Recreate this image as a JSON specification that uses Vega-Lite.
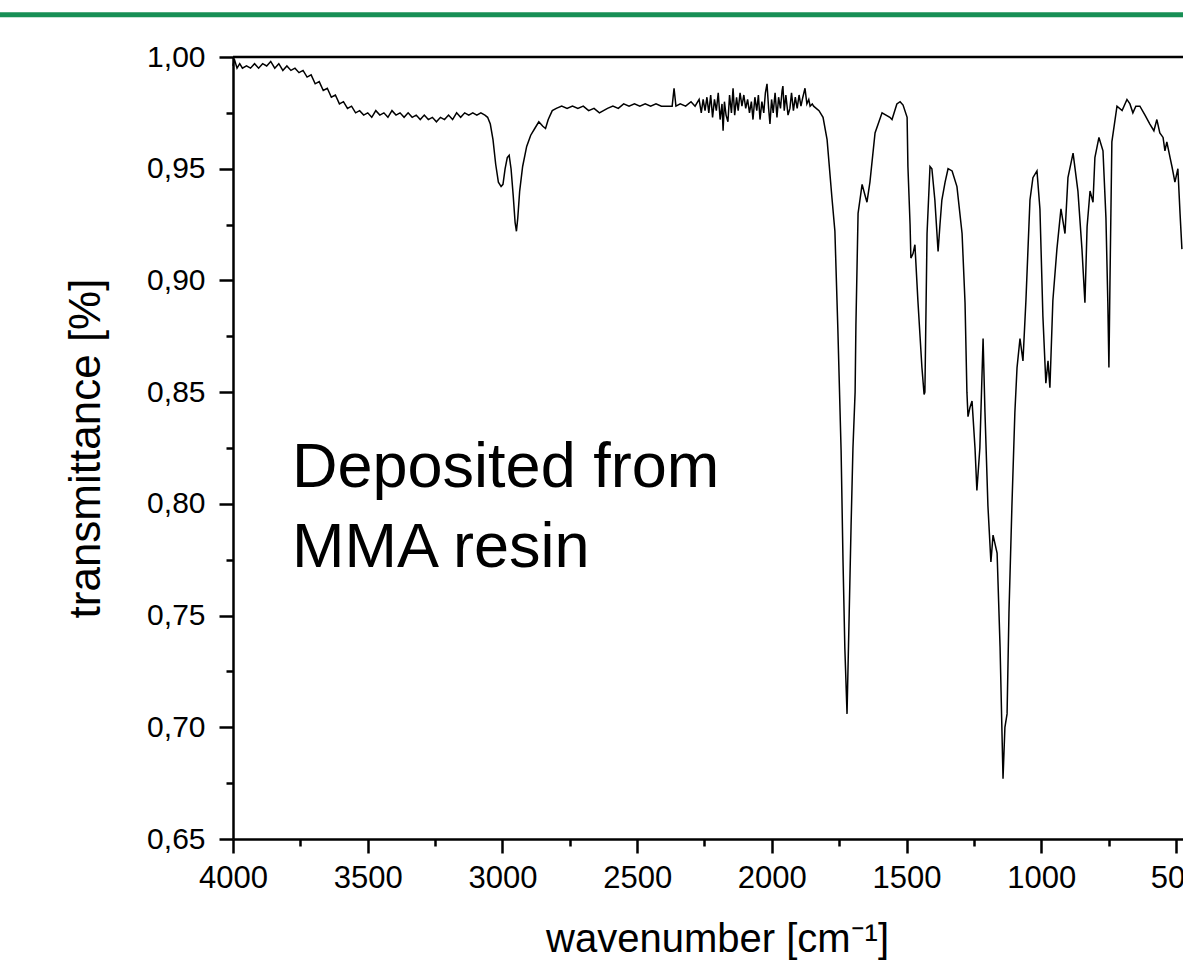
{
  "$schema": "https://vega.github.io/schema/vega-lite/v6.json",
  "autosize": {"type": "none"},
  "padding": {"left": 233, "top": 57, "right": 0, "bottom": 123},
  "width": 950,
  "height": 782,
  "background": "white",
  "config": {
    "view": {"stroke": null},
    "font": "Liberation Sans",
    "axis": {"grid": false, "domainColor": "black", "domainWidth": 2.5, "tickColor": "black", "tickWidth": 2.5, "labelColor": "black", "titleColor": "black", "labelFont": "Liberation Sans", "titleFont": "Liberation Sans", "titleFontWeight": "normal", "labelOverlap": false, "labelFlush": false, "labelBound": false}
  },
  "layer": [
    {
      "data": {"values": [
        {"wn":4000,"t":0.996},{"wn":3995,"t":0.999},{"wn":3985,"t":0.995},{"wn":3975,"t":0.997},{"wn":3965,"t":0.995},{"wn":3950,"t":0.996},{"wn":3935,"t":0.995},{"wn":3920,"t":0.997},{"wn":3905,"t":0.995},{"wn":3890,"t":0.997},{"wn":3875,"t":0.996},{"wn":3860,"t":0.998},{"wn":3845,"t":0.995},{"wn":3830,"t":0.997},{"wn":3815,"t":0.994},{"wn":3800,"t":0.996},{"wn":3785,"t":0.994},{"wn":3770,"t":0.995},{"wn":3755,"t":0.993},{"wn":3740,"t":0.994},{"wn":3725,"t":0.991},{"wn":3710,"t":0.992},{"wn":3695,"t":0.988},{"wn":3680,"t":0.989},{"wn":3665,"t":0.985},{"wn":3650,"t":0.986},{"wn":3635,"t":0.982},{"wn":3620,"t":0.983},{"wn":3605,"t":0.979},{"wn":3590,"t":0.98},{"wn":3575,"t":0.977},{"wn":3560,"t":0.978},{"wn":3545,"t":0.975},{"wn":3530,"t":0.976},{"wn":3515,"t":0.974},{"wn":3500,"t":0.975},{"wn":3485,"t":0.973},{"wn":3470,"t":0.976},{"wn":3455,"t":0.974},{"wn":3440,"t":0.975},{"wn":3425,"t":0.973},{"wn":3410,"t":0.976},{"wn":3395,"t":0.974},{"wn":3380,"t":0.975},{"wn":3365,"t":0.973},{"wn":3350,"t":0.975},{"wn":3335,"t":0.973},{"wn":3320,"t":0.974},{"wn":3305,"t":0.972},{"wn":3290,"t":0.974},{"wn":3275,"t":0.972},{"wn":3260,"t":0.973},{"wn":3245,"t":0.971},{"wn":3230,"t":0.973},{"wn":3215,"t":0.972},{"wn":3200,"t":0.974},{"wn":3185,"t":0.972},{"wn":3170,"t":0.975},{"wn":3155,"t":0.973},{"wn":3140,"t":0.975},{"wn":3125,"t":0.974},{"wn":3110,"t":0.975},{"wn":3095,"t":0.974},{"wn":3080,"t":0.975},{"wn":3065,"t":0.974},{"wn":3055,"t":0.973},
        {"wn":3045,"t":0.97},{"wn":3035,"t":0.963},{"wn":3025,"t":0.952},{"wn":3015,"t":0.944},{"wn":3005,"t":0.942},{"wn":2998,"t":0.943},{"wn":2990,"t":0.95},{"wn":2982,"t":0.955},{"wn":2975,"t":0.956},{"wn":2968,"t":0.95},{"wn":2960,"t":0.938},{"wn":2953,"t":0.926},{"wn":2948,"t":0.922},{"wn":2943,"t":0.928},{"wn":2936,"t":0.94},{"wn":2925,"t":0.951},{"wn":2910,"t":0.96},{"wn":2895,"t":0.965},{"wn":2880,"t":0.968},{"wn":2865,"t":0.971},{"wn":2850,"t":0.969},{"wn":2840,"t":0.968},{"wn":2830,"t":0.972},{"wn":2815,"t":0.976},{"wn":2800,"t":0.977},{"wn":2780,"t":0.978},
        {"wn":2760,"t":0.977},{"wn":2740,"t":0.978},{"wn":2720,"t":0.977},{"wn":2700,"t":0.978},{"wn":2680,"t":0.976},{"wn":2660,"t":0.977},{"wn":2640,"t":0.975},{"wn":2625,"t":0.976},{"wn":2610,"t":0.977},{"wn":2590,"t":0.978},{"wn":2570,"t":0.977},{"wn":2550,"t":0.979},{"wn":2530,"t":0.978},{"wn":2510,"t":0.979},{"wn":2490,"t":0.978},{"wn":2470,"t":0.979},{"wn":2450,"t":0.978},{"wn":2430,"t":0.979},{"wn":2410,"t":0.978},{"wn":2395,"t":0.978},{"wn":2370,"t":0.978},{"wn":2363,"t":0.986},{"wn":2356,"t":0.978},{"wn":2340,"t":0.979},{"wn":2320,"t":0.978},{"wn":2300,"t":0.98},{"wn":2285,"t":0.978},{"wn":2270,"t":0.981},
        {"wn":2262,"t":0.975},{"wn":2255,"t":0.981},{"wn":2248,"t":0.976},{"wn":2241,"t":0.982},{"wn":2234,"t":0.975},{"wn":2227,"t":0.983},{"wn":2220,"t":0.973},{"wn":2213,"t":0.981},{"wn":2206,"t":0.976},{"wn":2199,"t":0.984},{"wn":2192,"t":0.972},{"wn":2185,"t":0.979},{"wn":2181,"t":0.967},{"wn":2176,"t":0.98},{"wn":2170,"t":0.974},{"wn":2163,"t":0.971},{"wn":2157,"t":0.983},{"wn":2150,"t":0.975},{"wn":2144,"t":0.986},{"wn":2138,"t":0.974},{"wn":2131,"t":0.982},{"wn":2125,"t":0.976},{"wn":2118,"t":0.984},{"wn":2111,"t":0.978},{"wn":2104,"t":0.983},{"wn":2097,"t":0.977},{"wn":2090,"t":0.981},{"wn":2083,"t":0.975},{"wn":2076,"t":0.98},{"wn":2070,"t":0.972},{"wn":2063,"t":0.982},{"wn":2056,"t":0.976},{"wn":2050,"t":0.983},{"wn":2044,"t":0.972},{"wn":2037,"t":0.98},{"wn":2030,"t":0.975},{"wn":2024,"t":0.984},{"wn":2018,"t":0.988},{"wn":2012,"t":0.977},{"wn":2007,"t":0.97},{"wn":2001,"t":0.981},{"wn":1995,"t":0.975},{"wn":1988,"t":0.984},{"wn":1981,"t":0.973},{"wn":1975,"t":0.982},{"wn":1968,"t":0.977},{"wn":1962,"t":0.985},{"wn":1959,"t":0.987},{"wn":1954,"t":0.976},{"wn":1948,"t":0.983},{"wn":1940,"t":0.974},{"wn":1933,"t":0.977},{"wn":1927,"t":0.984},{"wn":1920,"t":0.976},{"wn":1913,"t":0.982},{"wn":1906,"t":0.977},{"wn":1899,"t":0.983},{"wn":1892,"t":0.978},{"wn":1885,"t":0.982},{"wn":1877,"t":0.986},{"wn":1870,"t":0.979},{"wn":1863,"t":0.981},{"wn":1858,"t":0.978},{"wn":1850,"t":0.979},{"wn":1845,"t":0.978},
        {"wn":1825,"t":0.976},{"wn":1810,"t":0.973},{"wn":1795,"t":0.963},{"wn":1777,"t":0.937},{"wn":1766,"t":0.922},{"wn":1755,"t":0.878},{"wn":1743,"t":0.824},{"wn":1736,"t":0.775},{"wn":1729,"t":0.735},{"wn":1721,"t":0.706},{"wn":1714,"t":0.745},{"wn":1706,"t":0.79},{"wn":1699,"t":0.825},{"wn":1691,"t":0.85},{"wn":1688,"t":0.88},{"wn":1680,"t":0.93},{"wn":1665,"t":0.943},{"wn":1654,"t":0.938},{"wn":1647,"t":0.935},{"wn":1636,"t":0.944},{"wn":1617,"t":0.966},{"wn":1591,"t":0.975},{"wn":1562,"t":0.973},{"wn":1554,"t":0.972},{"wn":1536,"t":0.979},{"wn":1524,"t":0.98},{"wn":1513,"t":0.9785},{"wn":1498,"t":0.973},{"wn":1495,"t":0.951},{"wn":1487,"t":0.925},{"wn":1484,"t":0.91},{"wn":1476,"t":0.912},{"wn":1469,"t":0.916},{"wn":1458,"t":0.891},{"wn":1450,"t":0.875},{"wn":1443,"t":0.861},{"wn":1435,"t":0.849},{"wn":1432,"t":0.85},{"wn":1424,"t":0.921},{"wn":1413,"t":0.951},{"wn":1406,"t":0.95},{"wn":1395,"t":0.936},{"wn":1383,"t":0.913},{"wn":1376,"t":0.925},{"wn":1369,"t":0.936},{"wn":1357,"t":0.944},{"wn":1346,"t":0.95},{"wn":1331,"t":0.949},{"wn":1313,"t":0.942},{"wn":1294,"t":0.921},{"wn":1283,"t":0.89},{"wn":1276,"t":0.85},{"wn":1272,"t":0.839},{"wn":1265,"t":0.843},{"wn":1257,"t":0.846},{"wn":1246,"t":0.825},{"wn":1239,"t":0.806},{"wn":1228,"t":0.825},{"wn":1216,"t":0.874},{"wn":1209,"t":0.841},{"wn":1198,"t":0.799},{"wn":1187,"t":0.774},{"wn":1179,"t":0.786},{"wn":1164,"t":0.778},{"wn":1153,"t":0.736},{"wn":1142,"t":0.677},{"wn":1135,"t":0.7},{"wn":1127,"t":0.706},{"wn":1120,"t":0.751},{"wn":1109,"t":0.799},{"wn":1098,"t":0.841},{"wn":1090,"t":0.861},{"wn":1079,"t":0.874},{"wn":1068,"t":0.864},{"wn":1057,"t":0.891},{"wn":1042,"t":0.936},{"wn":1031,"t":0.946},{"wn":1016,"t":0.949},{"wn":1005,"t":0.932},{"wn":994,"t":0.884},{"wn":983,"t":0.854},{"wn":975,"t":0.864},{"wn":968,"t":0.852},{"wn":957,"t":0.891},{"wn":942,"t":0.914},{"wn":927,"t":0.932},{"wn":912,"t":0.921},{"wn":901,"t":0.946},{"wn":882,"t":0.957},{"wn":864,"t":0.94},{"wn":849,"t":0.914},{"wn":838,"t":0.89},{"wn":830,"t":0.924},{"wn":819,"t":0.94},{"wn":808,"t":0.935},{"wn":801,"t":0.955},{"wn":786,"t":0.964},{"wn":771,"t":0.958},{"wn":760,"t":0.928},{"wn":753,"t":0.89},{"wn":749,"t":0.861},{"wn":745,"t":0.9},{"wn":738,"t":0.962},{"wn":719,"t":0.978},{"wn":700,"t":0.976},{"wn":682,"t":0.981},{"wn":671,"t":0.979},{"wn":660,"t":0.975},{"wn":649,"t":0.978},{"wn":634,"t":0.978},{"wn":615,"t":0.974},{"wn":597,"t":0.97},{"wn":582,"t":0.967},{"wn":571,"t":0.972},{"wn":560,"t":0.966},{"wn":548,"t":0.964},{"wn":541,"t":0.958},{"wn":534,"t":0.962},{"wn":522,"t":0.955},{"wn":515,"t":0.951},{"wn":504,"t":0.944},{"wn":493,"t":0.95},{"wn":485,"t":0.93},{"wn":478,"t":0.914}
      ]},
      "mark": {"type": "line", "color": "black", "strokeWidth": 1.5},
      "encoding": {
        "x": {
          "field": "wn", "type": "quantitative",
          "scale": {"domain": [4000, 474], "nice": false, "zero": false},
          "axis": {
            "values": [4000,3750,3500,3250,3000,2750,2500,2250,2000,1750,1500,1250,1000,750,500],
            "labelExpr": "datum.value % 500 === 0 ? format(datum.value, 'd') : ''",
            "tickSize": {"condition": {"test": "datum.value % 500 === 0", "value": 14}, "value": 7},
            "labelFontSize": 31,
            "labelPadding": 10,
            "title": "wavenumber [cm⁻¹]",
            "titleFontSize": 40,
            "titleX": 484,
            "titleBaseline": "alphabetic",
            "titlePadding": 58
          }
        },
        "y": {
          "field": "t", "type": "quantitative",
          "scale": {"domain": [0.65, 1.0], "nice": false, "zero": false},
          "axis": {
            "values": [0.65,0.675,0.7,0.725,0.75,0.775,0.8,0.825,0.85,0.875,0.9,0.925,0.95,0.975,1.0],
            "labelExpr": "round(datum.value * 1000) % 50 === 0 ? replace(format(datum.value, '.2f'), '.', ',') : ''",
            "tickSize": {"condition": {"test": "round(datum.value * 1000) % 50 === 0", "value": 14}, "value": 7},
            "labelFontSize": 30,
            "labelPadding": 14,
            "title": "transmittance [%]",
            "titleFontSize": 44,
            "titlePadding": 38
          }
        }
      }
    },
    {
      "data": {"values": [{}]},
      "mark": {"type": "rule", "color": "black", "strokeWidth": 2.5},
      "encoding": {"y": {"datum": 1.0}}
    },
    {
      "data": {"values": [{}]},
      "mark": {"type": "rule", "color": "#178f55", "strokeWidth": 5},
      "encoding": {"x": {"datum": 4870}, "x2": {"datum": 474}, "y": {"datum": 1.0189}}
    },
    {
      "data": {"values": [{"label": ["Deposited from", "MMA resin"]}]},
      "mark": {"type": "text", "align": "left", "baseline": "alphabetic", "fontSize": 63, "lineHeight": 80, "font": "Liberation Sans", "color": "black"},
      "encoding": {"x": {"datum": 3781}, "y": {"datum": 0.8076}, "text": {"field": "label"}}
    }
  ]
}
